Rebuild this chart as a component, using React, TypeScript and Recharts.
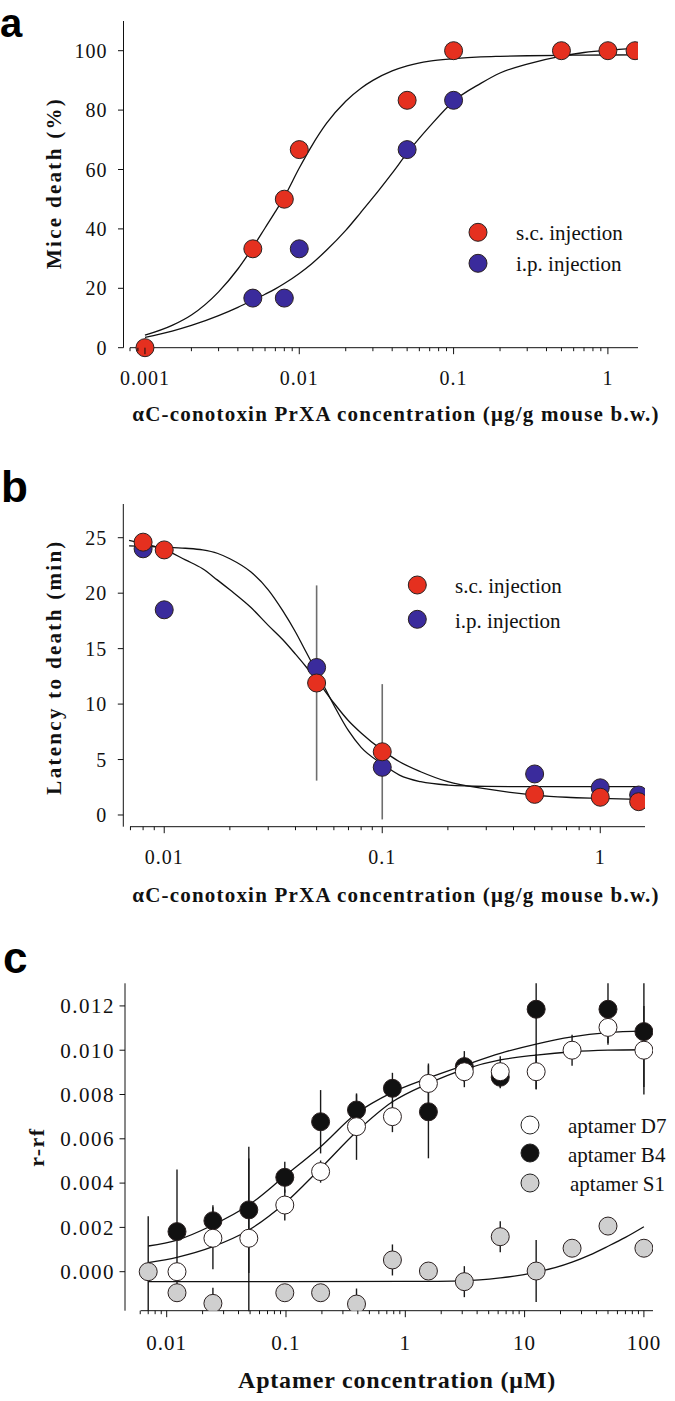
import React from 'react';
import {
  ComposedChart,
  Scatter,
  Line,
  XAxis,
  YAxis,
  ErrorBar,
  ReferenceLine,
  Label,
} from 'recharts';

const SERIF = '"Liberation Serif", "Times New Roman", serif';
const SANS = '"Liberation Sans", Arial, sans-serif';
const INK = '#111';
const RED = '#e5301f';
const BLUE = '#3a2b9c';

// ---------- panel a: mice death vs dose ----------
const aScConc = [0.001, 0.005, 0.008, 0.01, 0.05, 0.1, 0.5, 1, 1.5];
const aScDeath = [0, 33.3, 50, 66.7, 83.3, 100, 100, 100, 100];
const aIpConc = [0.005, 0.008, 0.01, 0.05, 0.1];
const aIpDeath = [16.7, 16.7, 33.3, 66.7, 83.3];
// fitted curves
const aFitConc = [0.001, 0.0015, 0.002, 0.003, 0.004, 0.005, 0.006, 0.007, 0.008, 0.01, 0.012, 0.015, 0.02, 0.025, 0.03, 0.04, 0.05, 0.07, 0.1, 0.15, 0.2, 0.3, 0.5, 0.7, 1, 1.5];
const aScFit = [4.2, 7.5, 11, 18.8, 26.5, 33.8, 40.3, 45.8, 50.8, 60.5, 67.8, 75.5, 83, 87.3, 90, 93.2, 94.9, 96.5, 97.3, 97.9, 98.1, 98.3, 98.45, 98.5, 98.55, 98.6];
const aIpFit = [3.5, 5.6, 7.5, 10.8, 13.6, 16, 18, 19.8, 21.6, 25, 28.2, 32.8, 39.5, 45.5, 50.5, 58.8, 65.5, 74.5, 83, 89, 92.5, 95.5, 98.2, 99.4, 100.2, 100.8];
const aMajor = [0.001, 0.01, 0.1, 1];
const aMajorLabels = ['0.001', '0.01', '0.1', '1'];
const aMinor = [0.0008, 0.0009, 0.002, 0.003, 0.004, 0.005, 0.006, 0.007, 0.008, 0.009, 0.02, 0.03, 0.04, 0.05, 0.06, 0.07, 0.08, 0.09, 0.2, 0.3, 0.4, 0.5, 0.6, 0.7, 0.8, 0.9];
const aYTicks = [0, 20, 40, 60, 80, 100];

// ---------- panel b: latency to death ----------
const bConc = [0.008, 0.01, 0.05, 0.1, 0.5, 1, 1.5];
const bScLatency = [24.6, 23.9, 11.9, 5.7, 1.86, 1.6, 1.2];
const bScErr = [0.5, 0.4, 8.8, 6.1, 0.3, 0.2, 0.2];
const bIpLatency = [24.0, 18.5, 13.3, 4.3, 3.7, 2.45, 1.8];
const bIpErr = [0.7, 0, 0, 0, 0, 0, 0];
const bFitConc = [0.0069, 0.008, 0.01, 0.0125, 0.015, 0.0175, 0.02, 0.025, 0.03, 0.035, 0.04, 0.045, 0.05, 0.06, 0.07, 0.08, 0.1, 0.12, 0.15, 0.2, 0.3, 0.5, 0.7, 1, 1.5];
const bIpFit = [24.27, 24.22, 24.15, 24.05, 23.9, 23.6, 23.1, 21.9, 20.3, 18.4, 16.5, 14.6, 12.9, 9.9, 7.6, 6.1, 4.6, 3.6, 3.0, 2.7, 2.58, 2.55, 2.55, 2.55, 2.55];
const bScFit = [24.75, 24.45, 23.95, 23.0, 22.2, 21.2, 20.3, 18.7, 17.1, 15.8, 14.5, 13.3, 12.2, 10.1, 8.5, 7.4, 5.85, 4.8, 3.9, 3.0, 2.35, 1.8, 1.6, 1.5, 1.4];
const bMajor = [0.01, 0.1, 1];
const bMajorLabels = ['0.01', '0.1', '1'];
const bMinor = [0.007, 0.008, 0.009, 0.02, 0.03, 0.04, 0.05, 0.06, 0.07, 0.08, 0.09, 0.2, 0.3, 0.4, 0.5, 0.6, 0.7, 0.8, 0.9];
const bYTicks = [0, 5, 10, 15, 20, 25];

// ---------- panel c: aptamer binding ----------
// error bars as visible below / above the point (the figure clips them at the frame)
const d7Conc = [0.0122, 0.0244, 0.0488, 0.0977, 0.195, 0.39, 0.78, 1.5625, 3.125, 6.25, 12.5, 25, 50, 100];
const d7Signal = [0.0, 0.00151, 0.00151, 0.00301, 0.00452, 0.00655, 0.007, 0.0085, 0.00903, 0.00903, 0.00903, 0.01, 0.01103, 0.01];
const d7ErrDown = [0, 0.0014, 0.0033, 0.0007, 0.0005, 0.0015, 0.0007, 0.0009, 0.0007, 0.0007, 0.0008, 0.0007, 0.0007, 0.002];
const d7ErrUp = [0, 0.0014, 0.0036, 0.0007, 0.0005, 0.0015, 0.0007, 0.0009, 0.0007, 0.0007, 0.0008, 0.0007, 0.0007, 0.002];
const b4Conc = [0.0122, 0.0244, 0.0488, 0.0977, 0.195, 0.39, 0.78, 1.5625, 3.125, 6.25, 12.5, 50, 100];
const b4Signal = [0.00181, 0.0023, 0.00279, 0.00426, 0.00677, 0.0073, 0.00828, 0.00722, 0.00926, 0.00878, 0.01185, 0.01185, 0.01084];
const b4ErrDown = [0.0028, 0.0007, 0.00285, 0.0007, 0.00143, 0.0007, 0.0007, 0.0021, 0.0007, 0.0005, 0.0036, 0.0016, 0.0025];
const b4ErrUp = [0.0028, 0.0007, 0.00285, 0.0007, 0.00143, 0.0007, 0.0007, 0.0021, 0.0007, 0.0005, 0.00117, 0.00117, 0.00218];
const s1Conc = [0.007, 0.0122, 0.0244, 0.0977, 0.195, 0.39, 0.78, 1.5625, 3.125, 6.25, 12.5, 25, 50, 100];
const s1Signal = [0.0, -0.00095, -0.00143, -0.00095, -0.00095, -0.00146, 0.00053, 0.00003, -0.00045, 0.00158, 0.00003, 0.00106, 0.00206, 0.00106];
const s1ErrDown = [0.00176, 0.0003, 0.0003, 0.0003, 0.0003, 0.0003, 0.0007, 0.0003, 0.0007, 0.0007, 0.0014, 0.0003, 0.0003, 0.0003];
const s1ErrUp = [0.0025, 0.0003, 0.0007, 0.0003, 0.0003, 0.0007, 0.0007, 0.0003, 0.0007, 0.0007, 0.0014, 0.0003, 0.0003, 0.0003];
const cFitConc = [0.007, 0.0122, 0.0244, 0.0488, 0.0977, 0.195, 0.39, 0.78, 1.5625, 3.125, 6.25, 12.5, 25, 50, 100];
const b4Fit = [0.00116, 0.00143, 0.00211, 0.00301, 0.00432, 0.00564, 0.00715, 0.0081, 0.00875, 0.00932, 0.00986, 0.01028, 0.0106, 0.01079, 0.01087];
const d7Fit = [0.00041, 0.00065, 0.00113, 0.00188, 0.00309, 0.00467, 0.00632, 0.00767, 0.0085, 0.00914, 0.00956, 0.00978, 0.00993, 0.01, 0.01002];
const s1FitConc = [0.007, 0.1, 1, 3.125, 6.25, 9, 12.5, 18, 25, 35, 50, 70, 100];
const s1Fit = [-0.00045, -0.00045, -0.00044, -0.00041, -0.00028, -0.00017, -0.00002, 0.00018, 0.00043, 0.00075, 0.00115, 0.00155, 0.00203];
const cMajor = [0.01, 0.1, 1, 10, 100];
const cMajorLabels = ['0.01', '0.1', '1', '10', '100'];
const cMinor = [0.006, 0.007, 0.008, 0.009, 0.02, 0.03, 0.04, 0.05, 0.06, 0.07, 0.08, 0.09, 0.2, 0.3, 0.4, 0.5, 0.6, 0.7, 0.8, 0.9, 2, 3, 4, 5, 6, 7, 8, 9, 20, 30, 40, 50, 60, 70, 80, 90];
const cYTicks = [0, 0.002, 0.004, 0.006, 0.008, 0.01, 0.012];

type Pt = { x: number; y: number; err: number | [number, number] };
const zip = (xs: number[], ys: number[], errs?: number[], errsUp?: number[]): Pt[] =>
  xs.map((x, i) => ({
    x,
    y: ys[i],
    err: errsUp && errs ? [errs[i], errsUp[i]] : errs ? errs[i] : 0,
  }));

const dot = (fill: string) => (p: any) => (
  <circle cx={p.cx} cy={p.cy} r={9} fill={fill} stroke="#2a2020" strokeWidth={1} />
);
const noDot = () => <g />;

const logTick =
  (majors: number[], labels: string[], dy: number, size: number, spacing: number) =>
  (p: any) => {
    const v = p.payload.value;
    const i = majors.findIndex((m) => Math.abs(m - v) < m * 1e-6);
    return (
      <g>
        <line x1={p.x} y1={p.y} x2={p.x} y2={p.y + (i >= 0 ? 6.5 : 3.5)} stroke={INK} strokeWidth={1} />
        {i >= 0 && (
          <text x={p.x} y={p.y + dy} textAnchor="middle" fontFamily={SERIF} fontSize={size}
            fill={INK} style={{ letterSpacing: spacing }}>
            {labels[i]}
          </text>
        )}
      </g>
    );
  };

const valueTick =
  (fmt: (v: number) => string, gap: number, size: number, spacing: number) =>
  (p: any) => (
    <g>
      <line x1={p.x - 5.5} y1={p.y} x2={p.x} y2={p.y} stroke={INK} strokeWidth={1} />
      <text x={p.x - gap} y={p.y} dy="0.35em" textAnchor="end" fontFamily={SERIF} fontSize={size}
        fill={INK} style={{ letterSpacing: spacing }}>
        {fmt(p.payload.value)}
      </text>
    </g>
  );

const title = (text: string, x: number, y: number, size: number, spacing: number, rotate = false) =>
  () => (
    <text x={x} y={y} textAnchor="middle" fontFamily={SERIF} fontWeight="bold" fontSize={size}
      fill={INK} transform={rotate ? `rotate(-90, ${x}, ${y})` : undefined}
      style={{ letterSpacing: spacing }}>
      {text}
    </text>
  );

const CONC_TITLE = 'αC-conotoxin PrXA concentration (μg/g mouse b.w.)';

export default function App() {
  const aSc = zip(aScConc, aScDeath);
  const aIp = zip(aIpConc, aIpDeath);
  const bSc = zip(bConc, bScLatency, bScErr);
  const bIp = zip(bConc, bIpLatency, bIpErr);
  const d7 = zip(d7Conc, d7Signal, d7ErrDown, d7ErrUp);
  const b4 = zip(b4Conc, b4Signal, b4ErrDown, b4ErrUp);
  const s1 = zip(s1Conc, s1Signal, s1ErrDown, s1ErrUp);

  const lineProps = {
    dataKey: 'y',
    type: 'monotone' as const,
    dot: false,
    activeDot: false,
    stroke: INK,
    strokeWidth: 1.3,
    isAnimationActive: false,
  };

  return (
    <div style={{ position: 'absolute', left: 0, top: 0, width: 675, height: 1401, background: '#fff', overflow: 'hidden' }}>
      {/* a */}
      <div style={{ position: 'absolute', left: 0, top: 0 }}>
        <ComposedChart width={675} height={440} margin={{ top: 21, right: 37, bottom: 12.3, left: 0 }}>
          <XAxis type="number" dataKey="x" scale="log" domain={[0.000726, 1.567]} allowDataOverflow
            ticks={[...aMinor, ...aMajor]} interval={0} tickSize={0} tickMargin={0} axisLine={false}
            tickLine={false} height={80} tick={logTick(aMajor, aMajorLabels, 37.5, 20, 1)}>
            <Label content={title(CONC_TITLE, 396, 421, 21, 1.2)} />
          </XAxis>
          <YAxis type="number" dataKey="y" domain={[0, 110]} ticks={aYTicks} interval={0} width={123.5}
            tickSize={0} tickMargin={0} tickLine={false} axisLine={{ stroke: INK }}
            tick={valueTick((v) => String(v), 16, 20, 1)}>
            <Label content={title('Mice death (%)', 61, 183, 21, 2.3, true)} />
          </YAxis>
          <ReferenceLine segment={[{ x: 0.0008, y: 0 }, { x: 1.567, y: 0 }]} stroke={INK} strokeWidth={1} ifOverflow="visible" />
          <Scatter data={aIp} shape={dot(BLUE)} isAnimationActive={false} />
          <Scatter data={aSc} shape={dot(RED)} isAnimationActive={false} />
          <Line {...lineProps} data={zip(aFitConc, aScFit)} />
          <Line {...lineProps} data={zip(aFitConc, aIpFit)} />
        </ComposedChart>
      </div>

      {/* b */}
      <div style={{ position: 'absolute', left: 0, top: 440 }}>
        <ComposedChart width={675} height={480} margin={{ top: 64, right: 30, bottom: 13.3, left: 0 }}>
          <XAxis type="number" dataKey="x" scale="log" domain={[0.00649, 1.604]} allowDataOverflow
            ticks={[...bMinor, ...bMajor]} interval={0} tickSize={0} tickMargin={0} axisLine={false}
            tickLine={false} height={80} tick={logTick(bMajor, bMajorLabels, 37.5, 20, 1)}>
            <Label content={title(CONC_TITLE, 396, 462, 21, 1.2)} />
          </XAxis>
          <YAxis type="number" dataKey="y" domain={[-1.055, 28.04]} ticks={bYTicks} interval={0} width={123.3}
            tickSize={0} tickMargin={0} tickLine={false} axisLine={{ stroke: INK }}
            tick={valueTick((v) => String(v), 16, 20, 1)}>
            <Label content={title('Latency to death (min)', 61, 227, 21, 2.3, true)} />
          </YAxis>
          <ReferenceLine segment={[{ x: 0.00697, y: -1.055 }, { x: 1.604, y: -1.055 }]} stroke={INK} strokeWidth={1} ifOverflow="visible" />
          <Scatter data={bSc} shape={noDot} isAnimationActive={false}>
            <ErrorBar dataKey="err" direction="y" width={0} stroke="#6e6e6e" strokeWidth={1.6} isAnimationActive={false} />
          </Scatter>
          <Scatter data={bIp} shape={dot(BLUE)} isAnimationActive={false}>
            <ErrorBar dataKey="err" direction="y" width={0} stroke="#6e6e6e" strokeWidth={1.6} isAnimationActive={false} />
          </Scatter>
          <Scatter data={bSc} shape={dot(RED)} isAnimationActive={false} />
          <Line {...lineProps} data={zip(bFitConc, bIpFit)} />
          <Line {...lineProps} data={zip(bFitConc, bScFit)} />
        </ComposedChart>
      </div>

      {/* c */}
      <div style={{ position: 'absolute', left: 0, top: 920 }}>
        <ComposedChart width={675} height={481} margin={{ top: 63.3, right: 22, bottom: 10.3, left: 0 }}>
          <XAxis type="number" dataKey="x" scale="log" domain={[0.004472, 119.2]} allowDataOverflow
            ticks={[...cMinor, ...cMajor]} interval={0} tickSize={0} tickMargin={0} axisLine={false}
            tickLine={false} height={80} tick={logTick(cMajor, cMajorLabels, 39.5, 21, 1)}>
            <Label content={title('Aptamer concentration (μM)', 397, 468, 24, 0.8)} />
          </XAxis>
          <YAxis type="number" dataKey="y" domain={[-0.001761, 0.013021]} allowDataOverflow ticks={cYTicks}
            interval={0} width={125} tickSize={0} tickMargin={0} tickLine={false} axisLine={{ stroke: INK }}
            tick={valueTick((v) => v.toFixed(3), 10, 21, 1.5)}>
            <Label content={title('r-rf', 43.5, 227, 22, 1.5, true)} />
          </YAxis>
          <ReferenceLine segment={[{ x: 0.00605, y: -0.001761 }, { x: 119.2, y: -0.001761 }]} stroke={INK} strokeWidth={1} ifOverflow="visible" />
          <Scatter data={s1} shape={dot('#cfcfcf')} isAnimationActive={false}>
            <ErrorBar dataKey="err" direction="y" width={0} stroke="#1a1a1a" strokeWidth={1.4} isAnimationActive={false} />
          </Scatter>
          <Scatter data={b4} shape={dot('#111')} isAnimationActive={false}>
            <ErrorBar dataKey="err" direction="y" width={0} stroke="#1a1a1a" strokeWidth={1.4} isAnimationActive={false} />
          </Scatter>
          <Scatter data={d7} shape={dot('#fff')} isAnimationActive={false}>
            <ErrorBar dataKey="err" direction="y" width={0} stroke="#1a1a1a" strokeWidth={1.4} isAnimationActive={false} />
          </Scatter>
          <Line {...lineProps} data={zip(cFitConc, b4Fit)} />
          <Line {...lineProps} data={zip(cFitConc, d7Fit)} />
          <Line {...lineProps} data={zip(s1FitConc, s1Fit)} />
        </ComposedChart>
      </div>

      {/* panel letters and legends */}
      <svg width={675} height={1401} style={{ position: 'absolute', left: 0, top: 0, pointerEvents: 'none' }}>
        <g fontFamily={SANS} fontWeight="bold" fill="#000">
          <text x={0} y={37} fontSize={40}>a</text>
          <text x={1} y={502} fontSize={44}>b</text>
          <text x={3} y={973} fontSize={44}>c</text>
        </g>
        <g fontFamily={SERIF} fontSize={21} fill={INK}>
          <circle cx={478} cy={232.3} r={9} fill={RED} stroke="#2a2020" />
          <text x={516} y={240}>s.c. injection</text>
          <circle cx={478} cy={263.3} r={9} fill={BLUE} stroke="#2a2020" />
          <text x={516} y={271}>i.p. injection</text>

          <circle cx={417.3} cy={585} r={9} fill={RED} stroke="#2a2020" />
          <text x={455} y={593}>s.c. injection</text>
          <circle cx={417.3} cy={619.3} r={9} fill={BLUE} stroke="#2a2020" />
          <text x={455} y={627.5}>i.p. injection</text>

          <circle cx={530} cy={1125} r={9} fill="#fff" stroke="#222" />
          <text x={568} y={1133}>aptamer D7</text>
          <circle cx={530} cy={1153} r={9} fill="#111" stroke="#222" />
          <text x={568} y={1161.5}>aptamer B4</text>
          <circle cx={530} cy={1183} r={9} fill="#cfcfcf" stroke="#222" />
          <text x={570} y={1191}>aptamer S1</text>
        </g>
      </svg>
    </div>
  );
}
